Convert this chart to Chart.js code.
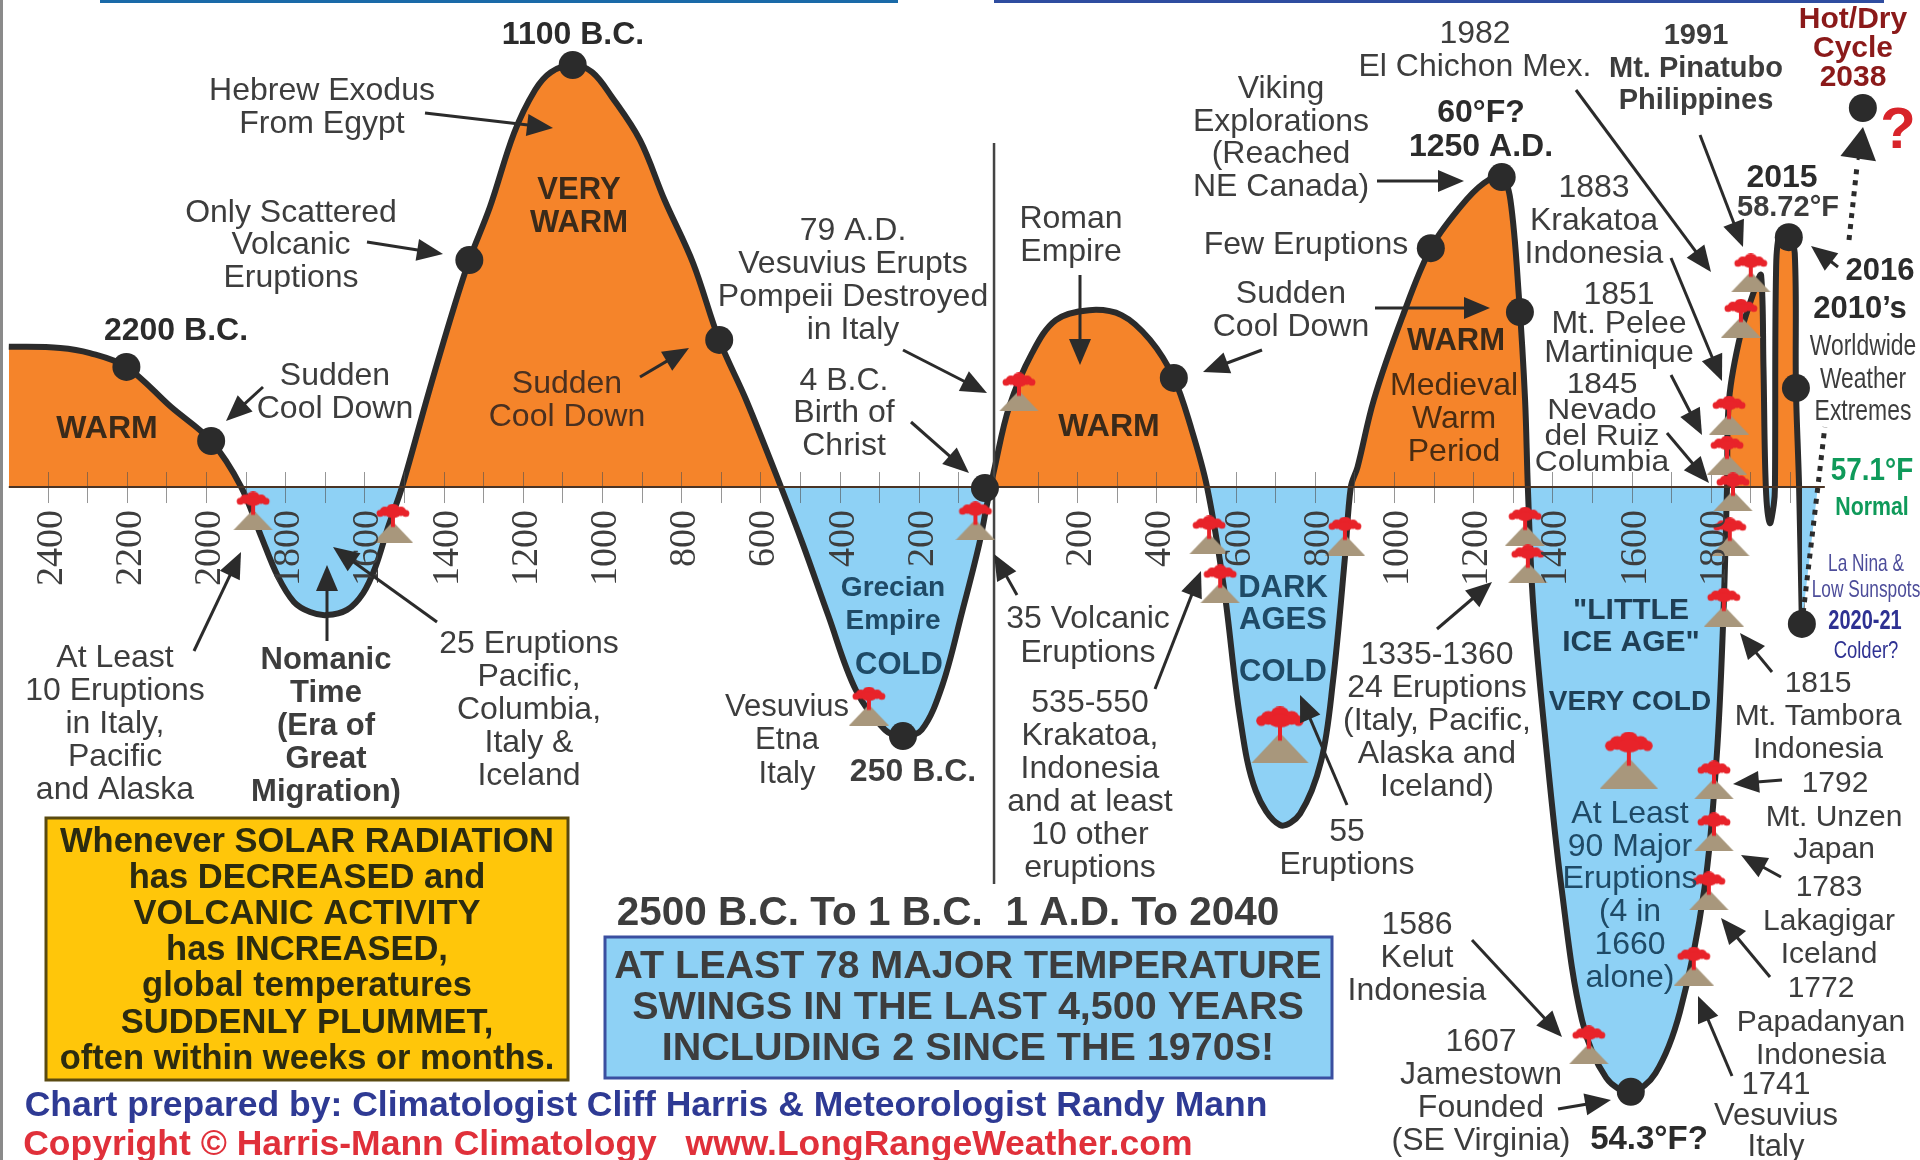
<!DOCTYPE html>
<html>
<head>
<meta charset="utf-8">
<title>Global temperature swings</title>
<script src="https://cdn.jsdelivr.net/npm/chart.js@4"></script>
<style>
  html, body { margin: 0; padding: 0; background: #fff; }
  canvas { display: block; }
</style>
</head>
<body>
<canvas id="grafica" width="1920" height="1160"></canvas>
<script>
// Years are negative for B.C.; the last stretch of the curve is drawn wider than its real dates
const curveYears = [-2498, -2368, -2293, -2201, -2088, -1987, -1911, -1861, -1819, -1778, -1737, -1696, -1644, -1603, -1572, -1540, -1505, -1438, -1376, -1335, -1283, -1222, -1169, -1129, -1074, -1025, -975, -904, -842, -770, -704, -636, -548, -492, -429, -359, -285, -240, -193, -141, -90, -48, -28, -8, 28, 86, 146, 230, 312, 384, 444, 487, 528, 571, 611, 651, 712, 763, 816, 846, 876, 891, 908, 949, 1021, 1093, 1167, 1227, 1272, 1294, 1316, 1331, 1338, 1351, 1381, 1423, 1475, 1536, 1598, 1660, 1722, 1784, 1815, 1831, 1841, 1846, 1876, 1913, 1927, 1933, 1939, 1949, 1959, 1962, 1965, 1975, 1997, 2012, 2015, 2023, 2030];
const curveTemps = [57.75, 57.744, 57.72, 57.656, 57.47, 57.313, 57.1, 56.873, 56.688, 56.568, 56.521, 56.507, 56.531, 56.609, 56.73, 56.915, 57.1, 57.535, 57.919, 58.151, 58.396, 58.739, 58.938, 59.021, 59.054, 59.021, 58.906, 58.706, 58.429, 58.137, 57.781, 57.503, 57.1, 56.831, 56.507, 56.16, 55.975, 55.947, 55.975, 56.179, 56.526, 56.831, 57.017, 57.193, 57.47, 57.72, 57.873, 57.919, 57.896, 57.781, 57.605, 57.378, 57.1, 56.628, 56.035, 55.693, 55.535, 55.588, 55.831, 56.202, 56.771, 57.1, 57.193, 57.503, 57.887, 58.206, 58.396, 58.507, 58.535, 58.429, 57.966, 57.503, 57.1, 56.568, 55.956, 55.244, 54.63, 54.364, 54.3, 54.385, 54.669, 55.241, 55.855, 56.466, 57.1, 57.503, 57.813, 58.026, 58.081, 57.656, 57.1, 56.933, 57.017, 57.1, 58.119, 58.276, 58.257, 58.183, 57.558, 57.1, 56.466];

const dotYears = [-2201, -1987, -1335, -1074, -704, -240, -33, 444, 1093, 1272, 1318, 1598, 1997, 2015, 2030, 2184];
const dotTemps = [57.656, 57.313, 58.151, 59.054, 57.781, 55.947, 57.095, 57.605, 58.206, 58.535, 57.91, 54.3, 58.257, 57.558, 56.466, 58.855];

const eruptionYears = [-1881, -1528, -326, -57, 53, 533, 561, 876, 1331, 1338, 1901, 1876, 1846, 1841, 1856, 1848, 1833, 1808, 1808, 1795, 1757, 1492];
const eruptionTemps = [56.989, 56.933, 56.086, 56.943, 57.54, 56.878, 56.651, 56.873, 56.919, 56.744, 58.091, 57.882, 57.433, 57.248, 57.077, 56.869, 56.544, 55.744, 55.503, 55.23, 54.882, 54.517];
const bigEruptionYears = [712, 1593];
const bigEruptionTemps = [55.952, 55.836];

const trendYears = [2030, 2088, 2100, 2149, 2169];
const trendTemps = [56.466, 57.378, null, 58.244, 58.581];

const normalTemp = 57.1;
const baselineYears = [-2498, 2088];
const dividerYear = -10;
const dividerTemps = [58.693, 55.262];

const tickYears = [-2400, -2300, -2200, -2100, -2000, -1900, -1800, -1700, -1600, -1500, -1400, -1300, -1200, -1100, -1000, -900, -800, -700, -600, -500, -400, -300, -200, -100, 100, 200, 300, 400, 500, 600, 700, 800, 900, 1000, 1100, 1200, 1300, 1400, 1500, 1600, 1700, 1800, 1900, 2000];
const labelYears = [-2400, -2200, -2000, -1800, -1600, -1400, -1200, -1000, -800, -600, -400, -200, 200, 400, 600, 800, 1000, 1200, 1400, 1600, 1800];

const GRIS = '#3d3d3d';
const NEGRO = '#2b2b2b';
const ORO = '#1f4a66';
const SANS = '"Liberation Sans"';

// Captions: lines, centre x, y of the first line, line pitch, then optional size, bold, colour, x stretch
const notes = [
    [['1100 B.C.'], 573, 35, 0, { b: 1, c: NEGRO }],
    [['Hebrew Exodus', 'From Egypt'], 322, 91, 33],
    [['Only Scattered', 'Volcanic', 'Eruptions'], 291, 213, 32.5],
    [['2200 B.C.'], 176, 331, 0, { b: 1, c: NEGRO }],
    [['Sudden', 'Cool Down'], 335, 376, 33],
    [['WARM'], 107, 429, 0, { b: 1, c: '#3a2a1a' }],
    [['VERY', 'WARM'], 579, 190, 33, { s: 31, b: 1, c: '#3a2a1a' }],
    [['Sudden', 'Cool Down'], 567, 384, 33, { c: '#4a3020' }],
    [['79 A.D.', 'Vesuvius Erupts', 'Pompeii Destroyed', 'in Italy'], 853, 231, 33],
    [['4 B.C.', 'Birth of', 'Christ'], 844, 381, 32.5],
    [['Roman', 'Empire'], 1071, 219, 33.5],
    [['WARM'], 1109, 427, 0, { b: 1, c: '#3a2a1a' }],
    [['Viking', 'Explorations', '(Reached', 'NE Canada)'], 1281, 89, 32.7],
    [['Few Eruptions'], 1306, 245, 0],
    [['Sudden', 'Cool Down'], 1291, 294, 33],
    [['1982', 'El Chichon Mex.'], 1475, 34, 33],
    [['1991', 'Mt. Pinatubo', 'Philippines'], 1696, 36, 32.5, { s: 29, b: 1 }],
    [['60°F?', '1250 A.D.'], 1481, 113, 34, { b: 1, c: NEGRO }],
    [['Hot/Dry', 'Cycle', '2038'], 1853, 20, 29, { s: 30, b: 1, c: '#8b1a1a' }],
    [['?'], 1898, 132, 0, { s: 58, b: 1, c: '#d8242a' }],
    [['2015'], 1782, 178, 0, { b: 1, c: NEGRO }],
    [['58.72°F'], 1788, 208, 0, { s: 29, b: 1 }],
    [['2016'], 1880, 271, 0, { s: 31, b: 1, c: NEGRO }],
    [['2010\u2019s'], 1860, 309, 0, { s: 31, b: 1, c: NEGRO }],
    [['Worldwide', 'Weather', 'Extremes'], 1863, 347, 32.5, { s: 29, w: 0.79 }],
    [['57.1°F'], 1872, 471, 0, { b: 1, c: '#0f9a5a', w: 0.87 }],
    [['Normal'], 1872, 508, 0, { s: 26, b: 1, c: '#0f9a5a', w: 0.82 }],
    [['La Nina &', 'Low Sunspots'], 1866, 564, 26, { s: 24, c: '#4d4d9a', w: 0.72 }],
    [['2020-21'], 1865, 622, 0, { s: 27, b: 1, c: '#2e3192', w: 0.74 }],
    [['Colder?'], 1866, 651, 0, { s: 24, c: '#2e3192', w: 0.77 }],
    [['1883', 'Krakatoa', 'Indonesia'], 1594, 188, 33],
    [['1851', 'Mt. Pelee', 'Martinique'], 1619, 295, 29],
    [['1845', 'Nevado', 'del Ruiz', 'Columbia'], 1602, 385, 26, { s: 30, w: 1.06 }],
    [['Medieval', 'Warm', 'Period'], 1454, 386, 33, { c: '#4a2c12' }],
    [['WARM'], 1456, 341, 0, { s: 31, b: 1, c: '#3a2a1a' }],
    [['At Least', '10 Eruptions', 'in Italy,', 'Pacific', 'and Alaska'], 115, 658, 33],
    [['Nomanic', 'Time', '(Era of', 'Great', 'Migration)'], 326, 660, 33, { s: 31, b: 1 }],
    [['25 Eruptions', 'Pacific,', 'Columbia,', 'Italy &', 'Iceland'], 529, 644, 33],
    [['Grecian', 'Empire'], 893, 588, 33, { s: 28, b: 1, c: ORO }],
    [['COLD'], 899, 665, 0, { s: 31, b: 1, c: ORO }],
    [['Vesuvius', 'Etna', 'Italy'], 787, 707, 33.5, { s: 31 }],
    [['250 B.C.'], 913, 772, 0, { b: 1 }],
    [['35 Volcanic', 'Eruptions'], 1088, 619, 34],
    [['535-550', 'Krakatoa,', 'Indonesia', 'and at least', '10 other', 'eruptions'], 1090, 703, 33],
    [['DARK', 'AGES'], 1283, 588, 32, { s: 31, b: 1, c: ORO }],
    [['COLD'], 1283, 672, 0, { s: 31, b: 1, c: ORO }],
    [['55', 'Eruptions'], 1347, 832, 33],
    [['1335-1360', '24 Eruptions', '(Italy, Pacific,', 'Alaska and', 'Iceland)'], 1437, 655, 33],
    [['1586', 'Kelut', 'Indonesia'], 1417, 925, 33],
    [['1607', 'Jamestown', 'Founded', '(SE Virginia)'], 1481, 1042, 33],
    [['54.3°F?'], 1649, 1140, 0, { s: 33, b: 1, c: NEGRO }],
    [['1741', 'Vesuvius', 'Italy'], 1776, 1085, 31, { s: 31 }],
    [['1815', 'Mt. Tambora', 'Indonesia'], 1818, 684, 33, { s: 30 }],
    [['1792'], 1835, 784, 0, { s: 30 }],
    [['Mt. Unzen', 'Japan'], 1834, 818, 32, { s: 30 }],
    [['1783', 'Lakagigar', 'Iceland'], 1829, 888, 33.5, { s: 30 }],
    [['1772', 'Papadanyan', 'Indonesia'], 1821, 989, 33.5, { s: 30 }],
    [['"LITTLE', 'ICE AGE"'], 1631, 611, 32, { s: 30, b: 1, c: '#1f3f55' }],
    [['VERY COLD'], 1630, 702, 0, { s: 28, b: 1, c: '#1f3f55' }],
    [['At Least', '90 Major', 'Eruptions', '(4 in', '1660', 'alone)'], 1630, 814, 32.8, { c: ORO }],
    [['2500 B.C. To 1 B.C.  1 A.D. To 2040'], 948, 914, 0, { s: 40.5, b: 1 }],
    [['Whenever SOLAR RADIATION', 'has DECREASED and', 'VOLCANIC ACTIVITY', 'has INCREASED,', 'global temperatures', 'SUDDENLY PLUMMET,', 'often within weeks or months.'], 307, 842, 36.2, { s: 34.5, b: 1, c: '#2b2b10' }],
    [['AT LEAST 78 MAJOR TEMPERATURE', 'SWINGS IN THE LAST 4,500 YEARS', 'INCLUDING 2 SINCE THE 1970S!'], 968, 967, 41, { s: 39.5, b: 1 }],
    [['Chart prepared by: Climatologist Cliff Harris & Meteorologist Randy Mann'], 646, 1106, 0, { s: 35.5, b: 1, c: '#2e3a94' }],
    [['Copyright © Harris-Mann Climatology'], 340, 1145, 0, { s: 35.5, b: 1, c: '#e0303a' }],
    [['www.LongRangeWeather.com'], 939, 1145, 0, { s: 35.5, b: 1, c: '#e0303a' }]
];

// Arrows from a caption to what it points at
const arrows = [
    [425, 113, 553, 128], [367, 242, 443, 254], [263, 387, 226, 421], [640, 377, 689, 348],
    [903, 350, 987, 393], [911, 422, 969, 473], [1080, 275, 1080, 365], [1262, 350, 1203, 372],
    [1377, 181, 1464, 181], [1375, 308, 1490, 308], [1576, 90, 1711, 272], [1700, 135, 1743, 247],
    [1671, 258, 1722, 381], [1671, 375, 1702, 435], [1667, 433, 1709, 483], [1838, 267, 1811, 246],
    [194, 651, 241, 552], [327, 641, 327, 565], [437, 622, 333, 547], [1017, 595, 994, 554],
    [1155, 689, 1201, 571], [1347, 805, 1300, 695], [1437, 629, 1492, 582], [1472, 940, 1562, 1037],
    [1558, 1109, 1611, 1100], [1732, 1076, 1698, 996], [1770, 977, 1721, 918], [1781, 877, 1741, 855],
    [1782, 780, 1733, 784], [1772, 672, 1740, 633]
];

function pares(xs, ys) {
    return xs.map(function (x, i) { return { x: x, y: ys[i] }; });
}

// Volcano icon used as the point style of the eruptions
function dibujarVolcan(w, h) {
    const c = document.createElement('canvas');
    c.width = w;
    c.height = h;
    const g = c.getContext('2d');
    g.fillStyle = '#a8977c';
    g.beginPath();
    g.moveTo(w / 2, h * 0.46);
    g.lineTo(w, h);
    g.lineTo(0, h);
    g.fill();
    g.fillStyle = '#e8232a';
    g.fillRect(w / 2 - 2, h * 0.3, 4, h * 0.3);
    const bultos = [[0.5, 0.14, 0.16, 0.14], [0.3, 0.2, 0.13, 0.12], [0.7, 0.2, 0.13, 0.12], [0.5, 0.25, 0.2, 0.12], [0.18, 0.25, 0.09, 0.09], [0.82, 0.25, 0.09, 0.09]];
    bultos.forEach(function (b) {
        g.beginPath();
        g.ellipse(w * b[0], h * b[1], w * b[2], h * b[3], 0, 0, Math.PI * 2);
        g.fill();
    });
    return c;
}

function escribirNota(ctx, n) {
    const o = n[4] || {};
    const size = o.s || 32;
    ctx.font = (o.b ? 'bold ' : '') + size + 'px ' + SANS;
    ctx.fillStyle = o.c || GRIS;
    ctx.textAlign = 'center';
    ctx.textBaseline = 'middle';
    n[0].forEach(function (linea, i) {
        const y = n[2] + i * n[3];
        if (o.w) {
            ctx.save();
            ctx.translate(n[1], y);
            ctx.scale(o.w, 1);
            ctx.fillText(linea, 0, 0);
            ctx.restore();
        } else {
            ctx.fillText(linea, n[1], y);
        }
    });
}

function dibujarFlecha(ctx, x1, y1, x2, y2, largo, ancho) {
    const a = Math.atan2(y2 - y1, x2 - x1);
    ctx.strokeStyle = NEGRO;
    ctx.fillStyle = NEGRO;
    ctx.lineWidth = 3;
    ctx.beginPath();
    ctx.moveTo(x1, y1);
    ctx.lineTo(x2 - Math.cos(a) * largo * 0.8, y2 - Math.sin(a) * largo * 0.8);
    ctx.stroke();
    ctx.save();
    ctx.translate(x2, y2);
    ctx.rotate(a);
    ctx.beginPath();
    ctx.moveTo(0, 0);
    ctx.lineTo(-largo, -ancho);
    ctx.lineTo(-largo, ancho);
    ctx.fill();
    ctx.restore();
}

const adornos = {
    id: 'adornos',
    beforeDraw: function (chart) {
        const ctx = chart.ctx;
        ctx.save();
        ctx.fillStyle = '#fff';
        ctx.fillRect(0, 0, 1920, 1160);
        ctx.fillStyle = '#8a8a8a';
        ctx.fillRect(0, 0, 3, 1160);
        ctx.fillStyle = '#1a6aa8';
        ctx.fillRect(100, 0, 798, 3);
        ctx.fillStyle = '#2f4da0';
        ctx.fillRect(994, 0, 890, 3);
        ctx.restore();
    },
    afterDatasetDraw: function (chart, args) {
        if (args.index !== 0) return;
        // Century marks crossing the baseline
        const ctx = chart.ctx;
        const base = chart.scales.y.getPixelForValue(normalTemp);
        ctx.save();
        ctx.strokeStyle = 'rgba(80,80,80,0.6)';
        ctx.lineWidth = 1;
        tickYears.forEach(function (v) {
            const x = Math.round(chart.scales.x.getPixelForValue(v)) + 0.5;
            ctx.beginPath();
            ctx.moveTo(x, base - 15);
            ctx.lineTo(x, base + 16);
            ctx.stroke();
        });
        ctx.restore();
    },
    afterDraw: function (chart) {
        const ctx = chart.ctx;
        ctx.save();
        ctx.fillStyle = '#ffc60a';
        ctx.strokeStyle = '#5a4a10';
        ctx.lineWidth = 3;
        ctx.fillRect(46, 818, 522, 262);
        ctx.strokeRect(46, 818, 522, 262);
        ctx.fillStyle = '#8ed1f5';
        ctx.strokeStyle = '#3a4fa0';
        ctx.fillRect(605, 937, 727, 141);
        ctx.strokeRect(605, 937, 727, 141);
        arrows.forEach(function (a) {
            dibujarFlecha(ctx, a[0], a[1], a[2], a[3], 26, 11);
        });
        dibujarFlecha(ctx, 1858, 160, 1863, 127, 32, 18);
        notes.forEach(function (n) {
            escribirNota(ctx, n);
        });
        ctx.restore();
    }
};

const ctx = document.getElementById('grafica').getContext('2d');

const grafica = new Chart(ctx, {
    type: 'line',
    data: {
        datasets: [
            {
                data: pares(curveYears, curveTemps),
                borderColor: NEGRO,
                borderWidth: 6,
                tension: 0.35,
                pointRadius: 0,
                fill: { target: { value: normalTemp }, above: '#f5842a', below: '#8ed1f5' },
                order: 5
            },
            {
                data: pares(trendYears, trendTemps),
                borderColor: NEGRO,
                borderWidth: 5,
                borderDash: [5, 6],
                pointRadius: 0,
                spanGaps: false,
                fill: { target: { value: normalTemp }, above: 'rgba(0,0,0,0)', below: '#8ed1f5' },
                order: 4
            },
            {
                data: baselineYears.map(function (x) { return { x: x, y: normalTemp }; }),
                borderColor: '#4a3425',
                borderWidth: 2,
                pointRadius: 0,
                order: 3
            },
            {
                data: dividerTemps.map(function (y) { return { x: dividerYear, y: y }; }),
                borderColor: '#444',
                borderWidth: 2.5,
                pointRadius: 0,
                order: 3
            },
            {
                data: pares(dotYears, dotTemps),
                showLine: false,
                pointRadius: 14,
                pointBackgroundColor: NEGRO,
                pointBorderWidth: 0,
                order: 2
            },
            {
                data: pares(eruptionYears, eruptionTemps),
                showLine: false,
                pointStyle: dibujarVolcan(40, 39),
                order: 1
            },
            {
                data: pares(bigEruptionYears, bigEruptionTemps),
                showLine: false,
                pointStyle: dibujarVolcan(58, 57),
                order: 1
            }
        ]
    },
    options: {
        responsive: false,
        animation: false,
        layout: { padding: 0, autoPadding: false },
        plugins: {
            legend: { display: false },
            tooltip: { enabled: false }
        },
        scales: {
            x: {
                type: 'linear',
                position: { y: normalTemp },
                min: -2520.2,
                max: 2328.3,
                border: { display: false },
                grid: { display: false, drawTicks: false },
                afterBuildTicks: function (scale) {
                    scale.ticks = tickYears.map(function (v) { return { value: v }; });
                },
                ticks: {
                    autoSkip: false,
                    minRotation: 90,
                    maxRotation: 90,
                    padding: 23,
                    labelOffset: 4,
                    z: 1,
                    color: GRIS,
                    font: { family: '"Liberation Serif"', size: 38 },
                    callback: function (v) {
                        return labelYears.includes(v) ? String(Math.abs(v)) : '';
                    }
                }
            },
            y: {
                display: false,
                min: 53.984,
                max: 59.355
            }
        }
    },
    plugins: [adornos]
});
</script>
</body>
</html>
